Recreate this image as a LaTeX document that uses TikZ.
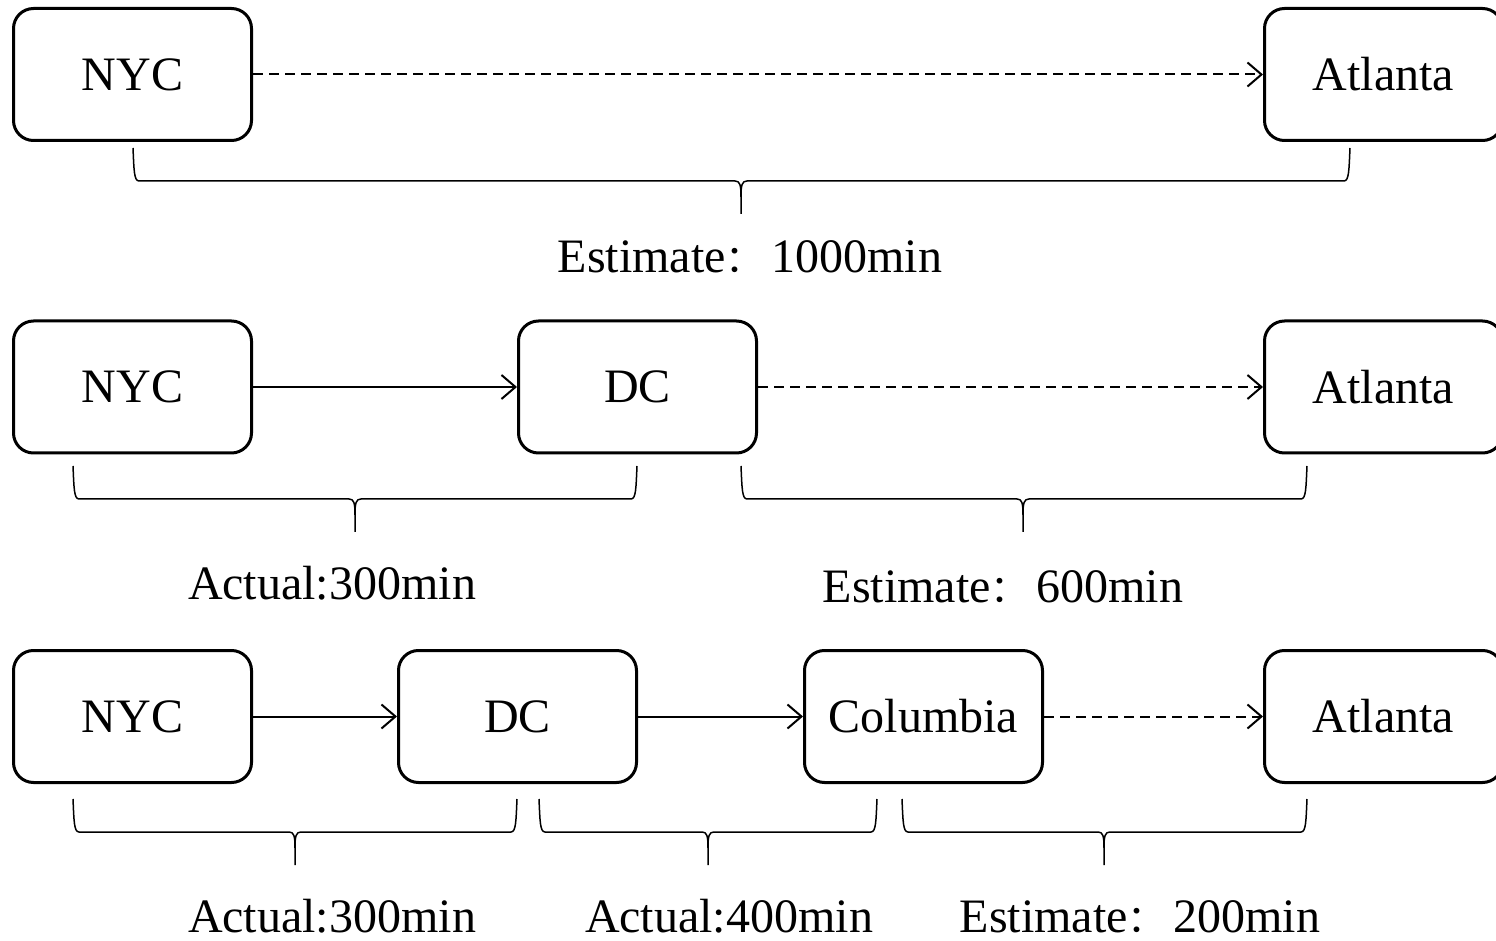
\documentclass[tikz,border=0pt]{standalone}
\usepackage{fontspec}
\setmainfont{Liberation Serif}
\newfontfamily\cjk{Noto Sans CJK SC}
\usetikzlibrary{arrows.meta}
\newcommand{\hbrace}[4]{% x1, x2, xtip, ytop
  \draw[brc] (#1,#4) .. controls (#1+1,#4+22) and (#1+1,#4+33) .. (#1+6,#4+33)
    -- (#3-6,#4+33) .. controls (#3-1,#4+33) and (#3,#4+37) .. (#3,#4+49) -- (#3,#4+66);
  \draw[brc] (#2,#4) .. controls (#2-1,#4+22) and (#2-1,#4+33) .. (#2-6,#4+33)
    -- (#3+6,#4+33) .. controls (#3+1,#4+33) and (#3,#4+37) .. (#3,#4+49);
}
\newcommand{\fwcolon}{{\cjk\fontsize{19}{22}\selectfont ：}\hspace{4pt}}
\begin{document}
\begin{tikzpicture}[x=0.5pt,y=-0.5pt,
  city/.style={draw,line width=1.5pt,rounded corners=10pt,minimum width=119pt,minimum height=66pt,inner sep=0pt,font=\fontsize{24}{28}\selectfont},
  link/.style={line width=1pt,-{Straight Barb[length=7pt,width=12pt]}},
  est/.style={link,dash pattern=on 5pt off 3pt},
  brc/.style={line width=0.75pt},
  lbl/.style={anchor=base,inner sep=0pt,font=\fontsize{24}{28}\selectfont}]
\useasboundingbox (0,0) rectangle (1496,941);
\clip (0,0) rectangle (1496,941);
% row 1
\node[city] (n1) at (132.5,74.5) {NYC};
\node[city] (a1) at (1383.5,74.5) {Atlanta};
\draw[est] (n1) -- (a1);
\hbrace{133}{1350}{741}{148}
\node[lbl] (l1) at (750,273) {Estimate\fwcolon 1000min};
% row 2
\node[city] (n2) at (132.5,387) {NYC};
\node[city] (d2) at (637.5,387) {DC};
\node[city] (a2) at (1383.5,387) {Atlanta};
\draw[link] (n2) -- (d2);
\draw[est] (d2) -- (a2);
\hbrace{73}{637}{355}{466}
\hbrace{741}{1307}{1023}{466}
\node[lbl] (l2) at (332,600) {Actual:300min};
\node[lbl] (l3) at (1003,603) {Estimate\fwcolon 600min};
% row 3
\node[city] (n3) at (132.5,716.5) {NYC};
\node[city] (d3) at (517.5,716.5) {DC};
\node[city] (c3) at (923.5,716.5) {Columbia};
\node[city] (a3) at (1383.5,716.5) {Atlanta};
\draw[link] (n3) -- (d3);
\draw[link] (d3) -- (c3);
\draw[est] (c3) -- (a3);
\hbrace{73}{517}{295}{799}
\hbrace{539}{877}{708}{799}
\hbrace{902}{1307}{1104}{799}
\node[lbl] (l4) at (332,932) {Actual:300min};
\node[lbl] (l5) at (729,932) {Actual:400min};
\node[lbl] (l6) at (1140,932) {Estimate\fwcolon 200min};
\end{tikzpicture}
\end{document}
